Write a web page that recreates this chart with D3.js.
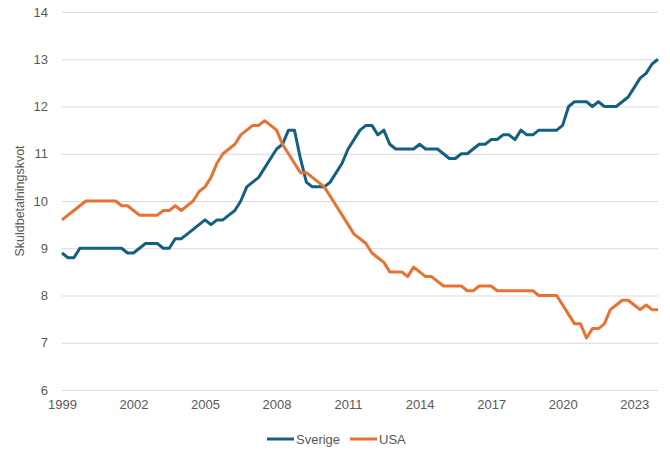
<!DOCTYPE html>
<html>
<head>
<meta charset="utf-8">
<script src="https://cdn.jsdelivr.net/npm/d3@7"></script>
<style>
  body { margin: 0; background: #fff; }
  text { font-family: "Liberation Sans", Arial, sans-serif; fill: #595959; }
</style>
</head>
<body>
<div id="chart"></div>
<script>
// quarterly values, 1999 Q1 .. 2024 Q1
var sverige = [
  8.9, 8.8, 8.8, 9.0, 9.0, 9.0, 9.0, 9.0, 9.0, 9.0,
  9.0, 8.9, 8.9, 9.0, 9.1, 9.1, 9.1, 9.0, 9.0, 9.2,
  9.2, 9.3, 9.4, 9.5, 9.6, 9.5, 9.6, 9.6, 9.7, 9.8,
  10.0, 10.3, 10.4, 10.5, 10.7, 10.9, 11.1, 11.2, 11.5, 11.5,
  10.9, 10.4, 10.3, 10.3, 10.3, 10.4, 10.6, 10.8, 11.1, 11.3,
  11.5, 11.6, 11.6, 11.4, 11.5, 11.2, 11.1, 11.1, 11.1, 11.1,
  11.2, 11.1, 11.1, 11.1, 11.0, 10.9, 10.9, 11.0, 11.0, 11.1,
  11.2, 11.2, 11.3, 11.3, 11.4, 11.4, 11.3, 11.5, 11.4, 11.4,
  11.5, 11.5, 11.5, 11.5, 11.6, 12.0, 12.1, 12.1, 12.1, 12.0,
  12.1, 12.0, 12.0, 12.0, 12.1, 12.2, 12.4, 12.6, 12.7, 12.9,
  13.0
];

var usa = [
  9.6, 9.7, 9.8, 9.9, 10.0, 10.0, 10.0, 10.0, 10.0, 10.0,
  9.9, 9.9, 9.8, 9.7, 9.7, 9.7, 9.7, 9.8, 9.8, 9.9,
  9.8, 9.9, 10.0, 10.2, 10.3, 10.5, 10.8, 11.0, 11.1, 11.2,
  11.4, 11.5, 11.6, 11.6, 11.7, 11.6, 11.5, 11.2, 11.0, 10.8,
  10.6, 10.6, 10.5, 10.4, 10.3, 10.1, 9.9, 9.7, 9.5, 9.3,
  9.2, 9.1, 8.9, 8.8, 8.7, 8.5, 8.5, 8.5, 8.4, 8.6,
  8.5, 8.4, 8.4, 8.3, 8.2, 8.2, 8.2, 8.2, 8.1, 8.1,
  8.2, 8.2, 8.2, 8.1, 8.1, 8.1, 8.1, 8.1, 8.1, 8.1,
  8.0, 8.0, 8.0, 8.0, 7.8, 7.6, 7.4, 7.4, 7.1, 7.3,
  7.3, 7.4, 7.7, 7.8, 7.9, 7.9, 7.8, 7.7, 7.8, 7.7,
  7.7
];

// one label every 12 quarters
var tickIndex = [0, 12, 24, 36, 48, 60, 72, 84, 96];
var tickLabels = ["1999", "2002", "2005", "2008", "2011", "2014", "2017", "2020", "2023"];
var yTicks = [6, 7, 8, 9, 10, 11, 12, 13, 14];

var series = [
  {name: "Sverige", values: sverige, color: "#156082"},
  {name: "USA", values: usa, color: "#E97132"}
];

var svgWidth = 670;
var svgHeight = 458;
var margin = {top: 12, right: 12, bottom: 68, left: 62};
var width = svgWidth - margin.left - margin.right;
var height = svgHeight - margin.top - margin.bottom;

var svg = d3.select("#chart")
  .append("svg")
  .attr("width", svgWidth)
  .attr("height", svgHeight);

var chartGroup = svg.append("g")
  .attr("transform", `translate(${margin.left}, ${margin.top})`);

var xScale = d3.scaleLinear()
  .domain([0, sverige.length - 1])
  .range([0, width]);

var yScale = d3.scaleLinear()
  .domain([6, 14])
  .range([height, 0]);

// gridlines + y labels
var leftAxis = d3.axisLeft(yScale)
  .tickValues(yTicks)
  .tickSize(-width)
  .tickPadding(14)
  .tickFormat(d3.format("d"));

var yAxisG = chartGroup.append("g").call(leftAxis);
yAxisG.select(".domain").remove();
yAxisG.selectAll("line").attr("stroke", "#d9d9d9").attr("stroke-width", 1);
yAxisG.selectAll("text").attr("font-size", 13).style("fill", "#595959");

var bottomAxis = d3.axisBottom(xScale)
  .tickValues(tickIndex)
  .tickSize(0)
  .tickPadding(10)
  .tickFormat((d, i) => tickLabels[i]);

var xAxisG = chartGroup.append("g")
  .attr("transform", `translate(0, ${height})`)
  .call(bottomAxis);
xAxisG.select(".domain").remove();
xAxisG.selectAll("text").attr("font-size", 13).style("fill", "#595959");

// lines
var line = d3.line()
  .x((d, i) => xScale(i))
  .y(d => yScale(d));

chartGroup.selectAll(".series")
  .data(series)
  .enter()
  .append("path")
  .attr("class", "series")
  .attr("fill", "none")
  .attr("stroke", d => d.color)
  .attr("stroke-width", 3)
  .attr("stroke-linejoin", "round")
  .attr("d", d => line(d.values));

// axis title
chartGroup.append("text")
  .attr("transform", "rotate(-90)")
  .attr("x", 0 - (height / 2))
  .attr("y", 0 - margin.left + 24)
  .attr("text-anchor", "middle")
  .attr("font-size", 12.5)
  .text("Skuldbetalningskvot");

// legend
var legendX = [267, 350];
var legend = svg.selectAll(".legend")
  .data(series)
  .enter()
  .append("g")
  .attr("class", "legend")
  .attr("transform", (d, i) => `translate(${legendX[i]}, 439)`);

legend.append("line")
  .attr("x1", 0)
  .attr("x2", 27)
  .attr("stroke", d => d.color)
  .attr("stroke-width", 3);

legend.append("text")
  .attr("x", 29)
  .attr("dy", "0.35em")
  .attr("font-size", 13)
  .text(d => d.name);
</script>
</body>
</html>
